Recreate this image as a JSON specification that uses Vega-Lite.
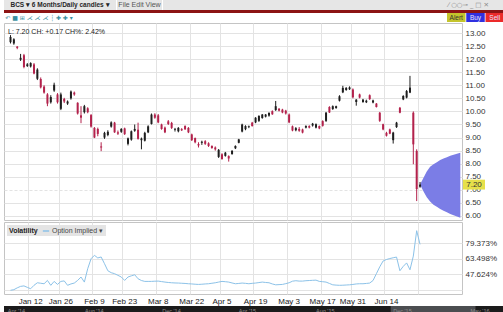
{
  "$schema": "https://vega.github.io/schema/vega-lite/v6.json",
  "padding": {"left": 3, "top": 0, "right": 0, "bottom": 0},
  "background": "white",
  "spacing": 0,
  "resolve": {"scale": {"color": "independent"}, "legend": {"color": "independent"}},
  "config": {
    "font": "Liberation Sans",
    "concat": {"spacing": 0},
    "view": {"stroke": null},
    "title": {"font": "Liberation Sans"},
    "axis": {"labelFont": "Liberation Sans"},
    "legend": {"labelFont": "Liberation Sans", "titleFont": "Liberation Sans"}
  },
  "datasets": {
    "px": [
      {"d": "2016-01-04", "o": 12.65, "h": 12.92, "l": 12.6, "c": 12.85, "iv": 31},
      {"d": "2016-01-05", "o": 12.6, "h": 12.8, "l": 12.55, "c": 12.76, "iv": 31.6},
      {"d": "2016-01-06", "o": 12.48, "h": 12.5, "l": 12.38, "c": 12.43, "iv": 33.5},
      {"d": "2016-01-07", "o": 11.98, "h": 12.2, "l": 11.93, "c": 12.05, "iv": 35},
      {"d": "2016-01-08", "o": 12.15, "h": 12.2, "l": 11.65, "c": 11.7, "iv": 35.5},
      {"d": "2016-01-11", "o": 11.74, "h": 11.85, "l": 11.7, "c": 11.8, "iv": 34},
      {"d": "2016-01-12", "o": 11.72, "h": 11.88, "l": 11.68, "c": 11.85, "iv": 32.6},
      {"d": "2016-01-13", "o": 11.8, "h": 11.85, "l": 11.42, "c": 11.45, "iv": 36.1},
      {"d": "2016-01-14", "o": 11.25, "h": 11.65, "l": 11.2, "c": 11.6, "iv": 38.7},
      {"d": "2016-01-15", "o": 11.24, "h": 11.3, "l": 10.88, "c": 10.92, "iv": 38.2},
      {"d": "2016-01-19", "o": 10.95, "h": 11.0, "l": 10.68, "c": 10.72, "iv": 37.7},
      {"d": "2016-01-20", "o": 10.65, "h": 10.7, "l": 10.2, "c": 10.3, "iv": 41.1},
      {"d": "2016-01-21", "o": 10.35, "h": 10.62, "l": 10.3, "c": 10.55, "iv": 36.1},
      {"d": "2016-01-22", "o": 10.8, "h": 11.1, "l": 10.75, "c": 11.02, "iv": 40.1},
      {"d": "2016-01-25", "o": 10.65, "h": 10.7, "l": 10.3, "c": 10.35, "iv": 37},
      {"d": "2016-01-26", "o": 10.1, "h": 10.72, "l": 10.05, "c": 10.65, "iv": 40.1},
      {"d": "2016-01-27", "o": 10.48, "h": 10.52, "l": 10.32, "c": 10.38, "iv": 40.6},
      {"d": "2016-01-28", "o": 10.3, "h": 10.42, "l": 10.25, "c": 10.38, "iv": 36.1},
      {"d": "2016-01-29", "o": 10.5, "h": 10.8, "l": 10.45, "c": 10.76, "iv": 37.5},
      {"d": "2016-02-01", "o": 10.72, "h": 10.76, "l": 10.6, "c": 10.65, "iv": 38.4},
      {"d": "2016-02-02", "o": 10.33, "h": 10.35, "l": 9.88, "c": 9.92, "iv": 41.1},
      {"d": "2016-02-03", "o": 9.85, "h": 10.2, "l": 9.55, "c": 9.76, "iv": 44.6},
      {"d": "2016-02-04", "o": 9.97, "h": 10.25, "l": 9.92, "c": 10.2, "iv": 39.4},
      {"d": "2016-02-05", "o": 10.12, "h": 10.16, "l": 9.93, "c": 9.97, "iv": 53.1},
      {"d": "2016-02-08", "o": 9.86, "h": 9.9, "l": 9.38, "c": 9.42, "iv": 63.3},
      {"d": "2016-02-09", "o": 9.37, "h": 9.4, "l": 8.98, "c": 9.0, "iv": 66.8},
      {"d": "2016-02-10", "o": 9.33, "h": 9.38, "l": 9.05, "c": 9.14, "iv": 64.1},
      {"d": "2016-02-11", "o": 8.66, "h": 8.82, "l": 8.48, "c": 8.62, "iv": 65.1},
      {"d": "2016-02-12", "o": 9.0, "h": 9.22, "l": 8.95, "c": 9.18, "iv": 58.2},
      {"d": "2016-02-16", "o": 9.1, "h": 9.28, "l": 9.05, "c": 9.22, "iv": 51},
      {"d": "2016-02-17", "o": 9.42, "h": 9.62, "l": 9.38, "c": 9.58, "iv": 49},
      {"d": "2016-02-18", "o": 9.57, "h": 9.6, "l": 9.18, "c": 9.2, "iv": 48},
      {"d": "2016-02-19", "o": 9.2, "h": 9.27, "l": 9.1, "c": 9.15, "iv": 46.3},
      {"d": "2016-02-22", "o": 9.22, "h": 9.36, "l": 9.18, "c": 9.33, "iv": 44.6},
      {"d": "2016-02-23", "o": 9.35, "h": 9.38, "l": 9.1, "c": 9.13, "iv": 41.1},
      {"d": "2016-02-24", "o": 8.76, "h": 9.0, "l": 8.7, "c": 8.97, "iv": 44.6},
      {"d": "2016-02-25", "o": 8.92, "h": 9.27, "l": 8.88, "c": 9.24, "iv": 45.8},
      {"d": "2016-02-26", "o": 9.26, "h": 9.5, "l": 9.22, "c": 9.33, "iv": 46.9},
      {"d": "2016-02-29", "o": 9.3, "h": 9.57, "l": 8.92, "c": 8.95, "iv": 42.8},
      {"d": "2016-03-01", "o": 8.9, "h": 9.0, "l": 8.55, "c": 8.96, "iv": 41},
      {"d": "2016-03-02", "o": 8.88, "h": 9.22, "l": 8.85, "c": 9.18, "iv": 40.1},
      {"d": "2016-03-03", "o": 9.2, "h": 9.47, "l": 9.17, "c": 9.43, "iv": 40.1},
      {"d": "2016-03-04", "o": 9.52, "h": 9.92, "l": 9.5, "c": 9.88, "iv": 40.1},
      {"d": "2016-03-07", "o": 9.88, "h": 9.93, "l": 9.72, "c": 9.76, "iv": 40.3},
      {"d": "2016-03-08", "o": 9.85, "h": 9.9, "l": 9.55, "c": 9.58, "iv": 40.4},
      {"d": "2016-03-09", "o": 9.5, "h": 9.53, "l": 9.3, "c": 9.33, "iv": 39.9},
      {"d": "2016-03-10", "o": 9.38, "h": 9.42, "l": 9.17, "c": 9.2, "iv": 39.4},
      {"d": "2016-03-11", "o": 9.62, "h": 9.67, "l": 9.48, "c": 9.52, "iv": 39},
      {"d": "2016-03-14", "o": 9.56, "h": 9.6, "l": 9.33, "c": 9.37, "iv": 38.7},
      {"d": "2016-03-15", "o": 9.3, "h": 9.37, "l": 9.23, "c": 9.33, "iv": 38.5},
      {"d": "2016-03-16", "o": 9.24, "h": 9.4, "l": 9.2, "c": 9.37, "iv": 38.4},
      {"d": "2016-03-17", "o": 9.32, "h": 9.36, "l": 9.25, "c": 9.28, "iv": 38.2},
      {"d": "2016-03-18", "o": 9.44, "h": 9.47, "l": 9.29, "c": 9.32, "iv": 38},
      {"d": "2016-03-21", "o": 9.37, "h": 9.4, "l": 9.17, "c": 9.2, "iv": 37.7},
      {"d": "2016-03-22", "o": 9.12, "h": 9.15, "l": 8.87, "c": 8.9, "iv": 37.5},
      {"d": "2016-03-23", "o": 8.98, "h": 9.0, "l": 8.78, "c": 8.82, "iv": 37.2},
      {"d": "2016-03-24", "o": 8.75, "h": 8.82, "l": 8.62, "c": 8.7, "iv": 37},
      {"d": "2016-03-28", "o": 8.8, "h": 8.88, "l": 8.72, "c": 8.84, "iv": 37.2},
      {"d": "2016-03-29", "o": 8.86, "h": 8.9, "l": 8.72, "c": 8.76, "iv": 37.5},
      {"d": "2016-03-30", "o": 8.78, "h": 8.82, "l": 8.64, "c": 8.68, "iv": 37.7},
      {"d": "2016-03-31", "o": 8.68, "h": 8.7, "l": 8.57, "c": 8.6, "iv": 38.2},
      {"d": "2016-04-01", "o": 8.62, "h": 8.66, "l": 8.5, "c": 8.55, "iv": 38.7},
      {"d": "2016-04-04", "o": 8.26, "h": 8.56, "l": 8.22, "c": 8.53, "iv": 39.4},
      {"d": "2016-04-05", "o": 8.36, "h": 8.4, "l": 8.15, "c": 8.18, "iv": 40.1},
      {"d": "2016-04-06", "o": 8.3, "h": 8.45, "l": 8.27, "c": 8.42, "iv": 39.8},
      {"d": "2016-04-07", "o": 8.29, "h": 8.32, "l": 8.08, "c": 8.2, "iv": 39.4},
      {"d": "2016-04-08", "o": 8.37, "h": 8.52, "l": 8.34, "c": 8.49, "iv": 38.5},
      {"d": "2016-04-11", "o": 8.59, "h": 8.7, "l": 8.56, "c": 8.68, "iv": 37.7},
      {"d": "2016-04-12", "o": 8.8, "h": 8.95, "l": 8.78, "c": 8.93, "iv": 38},
      {"d": "2016-04-13", "o": 9.23, "h": 9.53, "l": 9.2, "c": 9.5, "iv": 38.4},
      {"d": "2016-04-14", "o": 9.32, "h": 9.47, "l": 9.28, "c": 9.44, "iv": 38.1},
      {"d": "2016-04-15", "o": 9.4, "h": 9.46, "l": 9.36, "c": 9.43, "iv": 37.7},
      {"d": "2016-04-18", "o": 9.57, "h": 9.6, "l": 9.42, "c": 9.44, "iv": 38.1},
      {"d": "2016-04-19", "o": 9.58, "h": 9.78, "l": 9.55, "c": 9.76, "iv": 38.4},
      {"d": "2016-04-20", "o": 9.64, "h": 9.85, "l": 9.6, "c": 9.83, "iv": 38.9},
      {"d": "2016-04-21", "o": 9.75, "h": 9.9, "l": 9.72, "c": 9.88, "iv": 39.4},
      {"d": "2016-04-22", "o": 9.8, "h": 9.9, "l": 9.77, "c": 9.88, "iv": 39},
      {"d": "2016-04-25", "o": 9.84, "h": 9.97, "l": 9.8, "c": 9.94, "iv": 38.7},
      {"d": "2016-04-26", "o": 10.01, "h": 10.04, "l": 9.87, "c": 9.89, "iv": 37.5},
      {"d": "2016-04-27", "o": 10.05, "h": 10.4, "l": 10.02, "c": 10.2, "iv": 36.6},
      {"d": "2016-04-28", "o": 10.1, "h": 10.13, "l": 10.0, "c": 10.03, "iv": 36.8},
      {"d": "2016-04-29", "o": 10.07, "h": 10.1, "l": 9.93, "c": 9.96, "iv": 37},
      {"d": "2016-05-02", "o": 10.03, "h": 10.06, "l": 9.88, "c": 9.92, "iv": 37.8},
      {"d": "2016-05-03", "o": 9.88, "h": 9.92, "l": 9.55, "c": 9.58, "iv": 38.7},
      {"d": "2016-05-04", "o": 9.43, "h": 9.46, "l": 9.24, "c": 9.27, "iv": 40.3},
      {"d": "2016-05-05", "o": 9.28, "h": 9.4, "l": 9.24, "c": 9.36, "iv": 40.8},
      {"d": "2016-05-06", "o": 9.33, "h": 9.4, "l": 9.22, "c": 9.26, "iv": 40.4},
      {"d": "2016-05-09", "o": 9.31, "h": 9.34, "l": 9.16, "c": 9.19, "iv": 40.4},
      {"d": "2016-05-10", "o": 9.38, "h": 9.47, "l": 9.35, "c": 9.44, "iv": 40.8},
      {"d": "2016-05-11", "o": 9.44, "h": 9.47, "l": 9.35, "c": 9.38, "iv": 41},
      {"d": "2016-05-12", "o": 9.46, "h": 9.56, "l": 9.42, "c": 9.53, "iv": 41.2},
      {"d": "2016-05-13", "o": 9.38, "h": 9.54, "l": 9.35, "c": 9.51, "iv": 41.4},
      {"d": "2016-05-16", "o": 9.44, "h": 9.46, "l": 9.32, "c": 9.35, "iv": 40.1},
      {"d": "2016-05-17", "o": 9.63, "h": 9.66, "l": 9.42, "c": 9.45, "iv": 39.8},
      {"d": "2016-05-18", "o": 9.64, "h": 9.98, "l": 9.6, "c": 9.95, "iv": 39.4},
      {"d": "2016-05-19", "o": 10.17, "h": 10.2, "l": 9.94, "c": 9.96, "iv": 38},
      {"d": "2016-05-20", "o": 10.09, "h": 10.23, "l": 10.06, "c": 10.2, "iv": 36.6},
      {"d": "2016-05-23", "o": 10.13, "h": 10.22, "l": 10.1, "c": 10.2, "iv": 36.3},
      {"d": "2016-05-24", "o": 10.41, "h": 10.62, "l": 10.38, "c": 10.58, "iv": 36.1},
      {"d": "2016-05-25", "o": 10.73, "h": 10.98, "l": 10.7, "c": 10.9, "iv": 36.2},
      {"d": "2016-05-26", "o": 10.82, "h": 10.93, "l": 10.79, "c": 10.9, "iv": 36.4},
      {"d": "2016-05-27", "o": 10.85, "h": 10.96, "l": 10.82, "c": 10.92, "iv": 36.6},
      {"d": "2016-05-31", "o": 10.84, "h": 10.88, "l": 10.5, "c": 10.54, "iv": 37},
      {"d": "2016-06-01", "o": 10.36, "h": 10.47, "l": 10.22, "c": 10.45, "iv": 37.5},
      {"d": "2016-06-02", "o": 10.65, "h": 10.68, "l": 10.5, "c": 10.53, "iv": 37.7},
      {"d": "2016-06-03", "o": 10.36, "h": 10.48, "l": 10.33, "c": 10.45, "iv": 37.7},
      {"d": "2016-06-06", "o": 10.35, "h": 10.45, "l": 10.32, "c": 10.41, "iv": 38},
      {"d": "2016-06-07", "o": 10.62, "h": 10.65, "l": 10.44, "c": 10.47, "iv": 38.4},
      {"d": "2016-06-08", "o": 10.34, "h": 10.45, "l": 10.31, "c": 10.42, "iv": 41},
      {"d": "2016-06-09", "o": 10.3, "h": 10.32, "l": 10.15, "c": 10.17, "iv": 48},
      {"d": "2016-06-10", "o": 9.95, "h": 9.98, "l": 9.6, "c": 9.64, "iv": 55},
      {"d": "2016-06-13", "o": 9.51, "h": 9.53, "l": 9.28, "c": 9.31, "iv": 61},
      {"d": "2016-06-14", "o": 9.18, "h": 9.22, "l": 9.04, "c": 9.07, "iv": 62.5},
      {"d": "2016-06-15", "o": 9.31, "h": 9.34, "l": 9.13, "c": 9.15, "iv": 63.5},
      {"d": "2016-06-16", "o": 8.9, "h": 9.22, "l": 8.77, "c": 9.19, "iv": 64.3},
      {"d": "2016-06-17", "o": 9.4, "h": 9.6, "l": 9.37, "c": 9.57, "iv": 65},
      {"d": "2016-06-20", "o": 10.14, "h": 10.17, "l": 9.93, "c": 9.95, "iv": 51},
      {"d": "2016-06-21", "o": 10.46, "h": 10.62, "l": 10.43, "c": 10.59, "iv": 55.5},
      {"d": "2016-06-22", "o": 10.53, "h": 10.82, "l": 10.5, "c": 10.78, "iv": 59},
      {"d": "2016-06-23", "o": 10.72, "h": 11.36, "l": 10.7, "c": 10.91, "iv": 52},
      {"d": "2016-06-24", "o": 9.95, "h": 10.0, "l": 7.98, "c": 8.74, "iv": 66},
      {"d": "2016-06-27", "o": 8.49, "h": 8.55, "l": 6.57, "c": 7.03, "iv": 92},
      {"d": "2016-06-28", "o": 7.12, "h": 7.3, "l": 7.08, "c": 7.2, "iv": 78}
    ],
    "cone": [
      {"d": "2016-06-28", "hi": 7.2, "lo": 7.2},
      {"d": "2016-06-29", "hi": 7.45, "lo": 6.95},
      {"d": "2016-06-30", "hi": 7.7, "lo": 6.72},
      {"d": "2016-07-01", "hi": 7.88, "lo": 6.55},
      {"d": "2016-07-05", "hi": 7.98, "lo": 6.43},
      {"d": "2016-07-06", "hi": 8.06, "lo": 6.35},
      {"d": "2016-07-07", "hi": 8.14, "lo": 6.27},
      {"d": "2016-07-08", "hi": 8.2, "lo": 6.2},
      {"d": "2016-07-11", "hi": 8.25, "lo": 6.14},
      {"d": "2016-07-12", "hi": 8.3, "lo": 6.08},
      {"d": "2016-07-13", "hi": 8.34, "lo": 6.03},
      {"d": "2016-07-14", "hi": 8.38, "lo": 5.98},
      {"d": "2016-07-15", "hi": 8.42, "lo": 5.93}
    ],
    "btn": [{"b": "Alert"}, {"b": "Buy"}, {"b": "Sell"}],
    "nav": [
      {"m": "2014-04-01", "t": "Apr '14"},
      {"m": "2014-08-01", "t": "Aug '14"},
      {"m": "2014-12-01", "t": "Dec '14"},
      {"m": "2015-04-01", "t": "Apr '15"},
      {"m": "2015-08-01", "t": "Aug '15"},
      {"m": "2015-12-01", "t": "Dec '15"},
      {"m": "2016-04-01", "t": "May '16"}
    ],
    "win": [{"from": "2015-11-27", "to": "2016-04-09"}],
    "blank": [{"k": 1}]
  },
  "vconcat": [
    {
      "spacing": 0,
      "vconcat": [
        {
          "spacing": 0,
          "hconcat": [
            {
              "width": 112, "height": 10,
              "view": {"fill": "#e6e6e6", "stroke": null},
              "data": {"name": "blank"},
              "mark": {"type": "text", "fontSize": 6.5, "fontWeight": "bold", "color": "#262626", "baseline": "middle"},
              "encoding": {"text": {"value": "BCS ▾ 6 Months/Daily candles ▾"}}
            },
            {
              "width": 45, "height": 10,
              "view": {"fill": "#e6e6e6", "stroke": null},
              "data": {"name": "blank"},
              "mark": {"type": "text", "fontSize": 7, "color": "#555555", "baseline": "middle"},
              "encoding": {"text": {"value": "File  Edit  View"}}
            },
            {
              "width": 268, "height": 10,
              "view": {"fill": "#e6e6e6", "stroke": null},
              "data": {"name": "blank"},
              "mark": {"type": "text", "fontSize": 1},
              "encoding": {"text": {"value": ""}}
            },
            {
              "width": 75, "height": 10,
              "view": {"fill": "#e6e6e6", "stroke": null},
              "data": {"name": "blank"},
              "mark": {"type": "text", "fontSize": 6.5, "font": "DejaVu Sans", "color": "#8a8a8a", "baseline": "middle"},
              "encoding": {"text": {"value": "⁄ ○○⊸   _ □ ✕"}}
            }
          ]
        },
        {
          "width": 500, "height": 3,
          "view": {"fill": "#8c1414", "stroke": null},
          "data": {"name": "blank"},
          "mark": {"type": "text", "fontSize": 1},
          "encoding": {"text": {"value": ""}}
        },
        {
          "spacing": 0,
          "hconcat": [
            {
              "width": 70, "height": 9,
              "data": {"name": "blank"},
              "mark": {"type": "text", "fontSize": 6, "font": "DejaVu Sans", "color": "#3a8fa0", "baseline": "middle"},
              "encoding": {"text": {"value": "↶ ■ ⊞ ⋌ ⋌ ⋌ ┆ ✚ ✚ ▾"}}
            },
            {
              "width": 373, "height": 9,
              "data": {"name": "blank"},
              "mark": {"type": "text", "fontSize": 1},
              "encoding": {"text": {"value": ""}}
            },
            {
              "width": 57, "height": 9,
              "data": {"name": "btn"},
              "encoding": {"x": {"field": "b", "type": "nominal", "sort": null, "axis": null, "scale": {"paddingInner": 0.04, "paddingOuter": 0}}},
              "layer": [
                {"mark": {"type": "bar"}, "encoding": {"color": {"condition": [{"test": "datum.b === 'Alert'", "value": "#c4c42c"}, {"test": "datum.b === 'Buy'", "value": "#3030e0"}], "value": "#ec2a2a"}}},
                {"mark": {"type": "text", "fontSize": 6.5, "baseline": "middle"}, "encoding": {"text": {"field": "b", "type": "nominal"}, "color": {"condition": {"test": "datum.b === 'Alert'", "value": "#333333"}, "value": "#e6e6ff"}}}
              ]
            }
          ]
        }
      ]
    },
    {
      "width": 458, "height": 197,
      "view": {"stroke": "#c4c4c4", "fill": "white"},
      "title": {"text": "L: 7.20  CH: +0.17  CH%: 2.42%", "anchor": "start", "offset": -12, "fontSize": 7, "fontWeight": "normal", "color": "#222", "dx": 4},
      "layer": [
        {
          "data": {"name": "cone"},
          "mark": {"type": "area", "color": "#7b7de6", "opacity": 1},
          "encoding": {
            "x": {"field": "d", "type": "ordinal",
              "scale": {"type": "band", "paddingInner": 0, "paddingOuter": 0.72, "align": 1,
                "domain": ["2016-01-04","2016-01-05","2016-01-06","2016-01-07","2016-01-08","2016-01-11","2016-01-12","2016-01-13","2016-01-14","2016-01-15","2016-01-19","2016-01-20","2016-01-21","2016-01-22","2016-01-25","2016-01-26","2016-01-27","2016-01-28","2016-01-29","2016-02-01","2016-02-02","2016-02-03","2016-02-04","2016-02-05","2016-02-08","2016-02-09","2016-02-10","2016-02-11","2016-02-12","2016-02-16","2016-02-17","2016-02-18","2016-02-19","2016-02-22","2016-02-23","2016-02-24","2016-02-25","2016-02-26","2016-02-29","2016-03-01","2016-03-02","2016-03-03","2016-03-04","2016-03-07","2016-03-08","2016-03-09","2016-03-10","2016-03-11","2016-03-14","2016-03-15","2016-03-16","2016-03-17","2016-03-18","2016-03-21","2016-03-22","2016-03-23","2016-03-24","2016-03-28","2016-03-29","2016-03-30","2016-03-31","2016-04-01","2016-04-04","2016-04-05","2016-04-06","2016-04-07","2016-04-08","2016-04-11","2016-04-12","2016-04-13","2016-04-14","2016-04-15","2016-04-18","2016-04-19","2016-04-20","2016-04-21","2016-04-22","2016-04-25","2016-04-26","2016-04-27","2016-04-28","2016-04-29","2016-05-02","2016-05-03","2016-05-04","2016-05-05","2016-05-06","2016-05-09","2016-05-10","2016-05-11","2016-05-12","2016-05-13","2016-05-16","2016-05-17","2016-05-18","2016-05-19","2016-05-20","2016-05-23","2016-05-24","2016-05-25","2016-05-26","2016-05-27","2016-05-31","2016-06-01","2016-06-02","2016-06-03","2016-06-06","2016-06-07","2016-06-08","2016-06-09","2016-06-10","2016-06-13","2016-06-14","2016-06-15","2016-06-16","2016-06-17","2016-06-20","2016-06-21","2016-06-22","2016-06-23","2016-06-24","2016-06-27","2016-06-28","2016-06-29","2016-06-30","2016-07-01","2016-07-05","2016-07-06","2016-07-07","2016-07-08","2016-07-11","2016-07-12","2016-07-13","2016-07-14","2016-07-15"]},
              "axis": {"orient": "bottom", "values": ["2016-01-12","2016-01-26","2016-02-09","2016-02-23","2016-03-08","2016-03-22","2016-04-05","2016-04-19","2016-05-03","2016-05-17","2016-05-31","2016-06-14","2016-06-28"], "bandPosition": 0, "labels": false, "ticks": false, "domain": false, "grid": true, "gridColor": "#e3e3e3", "title": null, "minExtent": 0}
            },
            "y": {"field": "hi", "type": "quantitative", "scale": {"domain": [5.846, 13.383], "nice": false, "zero": false},
              "axis": {"orient": "right", "values": [6, 6.5, 7, 7.5, 8, 8.5, 9, 9.5, 10, 10.5, 11, 11.5, 12, 12.5, 13], "format": ".2f", "title": null, "ticks": false, "domain": false, "grid": true, "gridColor": "#e3e3e3", "gridDash": {"condition": {"test": "datum.value === 7", "value": [3, 2]}, "value": []}, "labelFontSize": 8, "labelColor": "#333", "labelPadding": 3, "labelOverlap": false}},
            "y2": {"field": "lo"}
          }
        },
        {
          "data": {"name": "px"},
          "mark": {"type": "rule", "strokeWidth": 1},
          "encoding": {
            "x": {"field": "d", "type": "ordinal",
              "axis": {"orient": "bottom", "values": ["2016-01-12","2016-01-26","2016-02-09","2016-02-23","2016-03-08","2016-03-22","2016-04-05","2016-04-19","2016-05-03","2016-05-17","2016-05-31","2016-06-14","2016-06-28"], "bandPosition": 0, "labels": false, "ticks": false, "domain": false, "grid": true, "gridColor": "#e3e3e3", "title": null, "minExtent": 0}},
            "y": {"field": "l", "type": "quantitative",
              "axis": {"orient": "right", "values": [6, 6.5, 7, 7.5, 8, 8.5, 9, 9.5, 10, 10.5, 11, 11.5, 12, 12.5, 13], "format": ".2f", "title": null, "ticks": false, "domain": false, "grid": true, "gridColor": "#e3e3e3", "gridDash": {"condition": {"test": "datum.value === 7", "value": [3, 2]}, "value": []}, "labelFontSize": 8, "labelColor": "#333", "labelPadding": 3, "labelOverlap": false}},
            "y2": {"field": "h"},
            "color": {"condition": {"test": "datum.c >= datum.o", "value": "#1e1e1e"}, "value": "#b3224c"}
          }
        },
        {
          "data": {"name": "px"},
          "mark": {"type": "bar", "size": 2},
          "encoding": {
            "x": {"field": "d", "type": "ordinal",
              "axis": {"orient": "bottom", "values": ["2016-01-12","2016-01-26","2016-02-09","2016-02-23","2016-03-08","2016-03-22","2016-04-05","2016-04-19","2016-05-03","2016-05-17","2016-05-31","2016-06-14","2016-06-28"], "bandPosition": 0, "labels": false, "ticks": false, "domain": false, "grid": true, "gridColor": "#e3e3e3", "title": null, "minExtent": 0}},
            "y": {"field": "o", "type": "quantitative",
              "axis": {"orient": "right", "values": [6, 6.5, 7, 7.5, 8, 8.5, 9, 9.5, 10, 10.5, 11, 11.5, 12, 12.5, 13], "format": ".2f", "title": null, "ticks": false, "domain": false, "grid": true, "gridColor": "#e3e3e3", "gridDash": {"condition": {"test": "datum.value === 7", "value": [3, 2]}, "value": []}, "labelFontSize": 8, "labelColor": "#333", "labelPadding": 3, "labelOverlap": false}},
            "y2": {"field": "c"},
            "color": {"condition": {"test": "datum.c >= datum.o", "value": "#1e1e1e"}, "value": "#b3224c"}
          }
        },
        {
          "data": {"name": "px"},
          "transform": [{"filter": "datum.d === '2016-06-28'"}],
          "mark": {"type": "point", "shape": "M-1,-0.45H1V0.45H-1Z", "filled": true, "color": "#e6e04a", "size": 484, "xOffset": 12, "opacity": 1},
          "encoding": {"x": {"value": "width"}, "y": {"field": "c", "type": "quantitative",
              "axis": {"orient": "right", "values": [6, 6.5, 7, 7.5, 8, 8.5, 9, 9.5, 10, 10.5, 11, 11.5, 12, 12.5, 13], "format": ".2f", "title": null, "ticks": false, "domain": false, "grid": true, "gridColor": "#e3e3e3", "gridDash": {"condition": {"test": "datum.value === 7", "value": [3, 2]}, "value": []}, "labelFontSize": 8, "labelColor": "#333", "labelPadding": 3, "labelOverlap": false}}}
        },
        {
          "data": {"name": "px"},
          "transform": [{"filter": "datum.d === '2016-06-28'"}],
          "mark": {"type": "text", "fontSize": 8, "color": "#333", "align": "center", "baseline": "middle", "xOffset": 12},
          "encoding": {"x": {"value": "width"}, "y": {"field": "c", "type": "quantitative",
              "axis": {"orient": "right", "values": [6, 6.5, 7, 7.5, 8, 8.5, 9, 9.5, 10, 10.5, 11, 11.5, 12, 12.5, 13], "format": ".2f", "title": null, "ticks": false, "domain": false, "grid": true, "gridColor": "#e3e3e3", "gridDash": {"condition": {"test": "datum.value === 7", "value": [3, 2]}, "value": []}, "labelFontSize": 8, "labelColor": "#333", "labelPadding": 3, "labelOverlap": false}}, "text": {"field": "c", "type": "quantitative", "format": ".2f"}}
        }
      ]
    },
    {
      "width": 458, "height": 72,
      "view": {"stroke": "#c4c4c4", "fill": "white"},
      "data": {"name": "px"},
      "mark": {"type": "line", "strokeWidth": 1},
      "encoding": {
        "x": {"field": "d", "type": "ordinal",
          "scale": {"type": "band", "paddingInner": 0, "paddingOuter": 0.72, "align": 1,
            "domain": ["2016-01-04","2016-01-05","2016-01-06","2016-01-07","2016-01-08","2016-01-11","2016-01-12","2016-01-13","2016-01-14","2016-01-15","2016-01-19","2016-01-20","2016-01-21","2016-01-22","2016-01-25","2016-01-26","2016-01-27","2016-01-28","2016-01-29","2016-02-01","2016-02-02","2016-02-03","2016-02-04","2016-02-05","2016-02-08","2016-02-09","2016-02-10","2016-02-11","2016-02-12","2016-02-16","2016-02-17","2016-02-18","2016-02-19","2016-02-22","2016-02-23","2016-02-24","2016-02-25","2016-02-26","2016-02-29","2016-03-01","2016-03-02","2016-03-03","2016-03-04","2016-03-07","2016-03-08","2016-03-09","2016-03-10","2016-03-11","2016-03-14","2016-03-15","2016-03-16","2016-03-17","2016-03-18","2016-03-21","2016-03-22","2016-03-23","2016-03-24","2016-03-28","2016-03-29","2016-03-30","2016-03-31","2016-04-01","2016-04-04","2016-04-05","2016-04-06","2016-04-07","2016-04-08","2016-04-11","2016-04-12","2016-04-13","2016-04-14","2016-04-15","2016-04-18","2016-04-19","2016-04-20","2016-04-21","2016-04-22","2016-04-25","2016-04-26","2016-04-27","2016-04-28","2016-04-29","2016-05-02","2016-05-03","2016-05-04","2016-05-05","2016-05-06","2016-05-09","2016-05-10","2016-05-11","2016-05-12","2016-05-13","2016-05-16","2016-05-17","2016-05-18","2016-05-19","2016-05-20","2016-05-23","2016-05-24","2016-05-25","2016-05-26","2016-05-27","2016-05-31","2016-06-01","2016-06-02","2016-06-03","2016-06-06","2016-06-07","2016-06-08","2016-06-09","2016-06-10","2016-06-13","2016-06-14","2016-06-15","2016-06-16","2016-06-17","2016-06-20","2016-06-21","2016-06-22","2016-06-23","2016-06-24","2016-06-27","2016-06-28","2016-06-29","2016-06-30","2016-07-01","2016-07-05","2016-07-06","2016-07-07","2016-07-08","2016-07-11","2016-07-12","2016-07-13","2016-07-14","2016-07-15"]},
          "axis": {"orient": "bottom", "values": ["2016-01-12","2016-01-26","2016-02-09","2016-02-23","2016-03-08","2016-03-22","2016-04-05","2016-04-19","2016-05-03","2016-05-17","2016-05-31","2016-06-14","2016-06-28"], "bandPosition": 0, "labelExpr": "datum.value === '2016-06-28' ? '' : timeFormat(toDate(datum.value + 'T00:00:00'), '%b %-d')", "labelAngle": 0, "labelOverlap": false, "labelFontSize": 8, "labelColor": "#222", "labelPadding": 3, "ticks": false, "domain": false, "grid": true, "gridColor": "#e3e3e3", "title": null}
        },
        "y": {"field": "iv", "type": "quantitative", "scale": {"domain": [27.2, 100.9], "nice": false, "zero": false},
          "axis": {"orient": "right", "values": [31.749, 47.624, 63.498, 79.373], "labelExpr": "datum.value < 40 ? '' : format(datum.value, '.3f') + '%'", "title": null, "ticks": false, "domain": false, "grid": true, "gridColor": "#e3e3e3", "labelFontSize": 8, "labelColor": "#333", "labelPadding": 3, "labelOverlap": false}},
        "color": {"datum": "Option Implied ▾", "type": "nominal", "scale": {"range": ["#8cc2e8"]},
          "legend": {"orient": "top-left", "title": "Volatility", "titleOrient": "left", "direction": "horizontal", "fillColor": "#e4e4e4", "padding": 2, "offset": 3, "titleFontSize": 7, "titleFontWeight": "bold", "titleColor": "#222", "labelFontSize": 7, "labelColor": "#444", "symbolType": "stroke", "symbolSize": 40, "symbolStrokeWidth": 1.5, "titlePadding": 4, "labelOffset": 2}}
      }
    },
    {
      "width": 500, "height": 9,
      "view": {"fill": "#1b1b1b", "stroke": null},
      "layer": [
        {
          "data": {"name": "win"},
          "mark": {"type": "rect", "color": "#4b4d50"},
          "encoding": {
            "x": {"field": "from", "type": "temporal", "scale": {"domain": [{"year": 2014, "month": 3, "date": 26}, {"year": 2016, "month": 5, "date": 24}]}, "axis": null},
            "x2": {"field": "to"}
          }
        },
        {
          "data": {"name": "nav"},
          "mark": {"type": "text", "fontSize": 5.5, "color": "#8f8f8f", "align": "left", "baseline": "middle"},
          "encoding": {
            "x": {"field": "m", "type": "temporal"},
            "text": {"field": "t", "type": "nominal"}
          }
        }
      ]
    }
  ]
}
